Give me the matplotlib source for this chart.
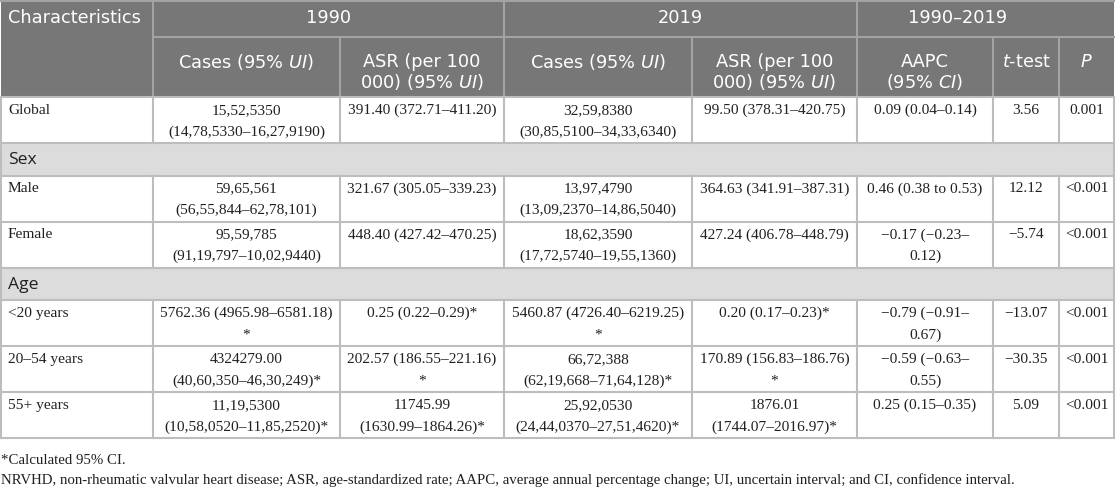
import matplotlib.pyplot as plt
from matplotlib.patches import Rectangle

plt.rcParams['mathtext.fontset'] = 'dejavusans'

# --- table content ---
top_heads = ["1990", "2019", "1990–2019"]
sub_heads = ["Cases (95% $UI$)", "ASR (per 100\n000) (95% $UI$)",
             "Cases (95% $UI$)", "ASR (per 100\n000) (95% $UI$)",
             "AAPC\n(95% $CI$)", "$t$-test", "$P$"]

characteristics = ["Global", "Male", "Female", "<20 years", "20–54 years", "55+ years"]
section_before = {1: "Sex", 3: "Age"}

cases_1990 = ["15,52,5350\n(14,78,5330–16,27,9190)",
              "59,65,561\n(56,55,844–62,78,101)",
              "95,59,785\n(91,19,797–10,02,9440)",
              "5762.36 (4965.98–6581.18)\n*",
              "4324279.00\n(40,60,350–46,30,249)*",
              "11,19,5300\n(10,58,0520–11,85,2520)*"]
asr_1990 = ["391.40 (372.71–411.20)",
            "321.67 (305.05–339.23)",
            "448.40 (427.42–470.25)",
            "0.25 (0.22–0.29)*",
            "202.57 (186.55–221.16)\n*",
            "11745.99\n(1630.99–1864.26)*"]
cases_2019 = ["32,59,8380\n(30,85,5100–34,33,6340)",
              "13,97,4790\n(13,09,2370–14,86,5040)",
              "18,62,3590\n(17,72,5740–19,55,1360)",
              "5460.87 (4726.40–6219.25)\n*",
              "66,72,388\n(62,19,668–71,64,128)*",
              "25,92,0530\n(24,44,0370–27,51,4620)*"]
asr_2019 = ["99.50 (378.31–420.75)",
            "364.63 (341.91–387.31)",
            "427.24 (406.78–448.79)",
            "0.20 (0.17–0.23)*",
            "170.89 (156.83–186.76)\n*",
            "1876.01\n(1744.07–2016.97)*"]
aapc = ["0.09 (0.04–0.14)",
        "0.46 (0.38 to 0.53)",
        "−0.17 (−0.23–\n0.12)",
        "−0.79 (−0.91–\n0.67)",
        "−0.59 (−0.63–\n0.55)",
        "0.25 (0.15–0.35)"]
t_test = ["3.56", "12.12", "−5.74", "−13.07", "−30.35", "5.09"]
p_value = ["0.001", "<0.001", "<0.001", "<0.001", "<0.001", "<0.001"]

footnotes = ["*Calculated 95% CI.",
             "NRVHD, non-rheumatic valvular heart disease; ASR, age-standardized rate; "
             "AAPC, average annual percentage change; UI, uncertain interval; and CI, confidence interval."]

# --- layout (pixels) ---
W, H = 1116, 488
col_edges = [1, 153, 340, 504, 692, 857, 993, 1059, 1114]
head_y = [1, 37, 97]
data_h, sect_h = 46, 32.5
head_bg, sect_bg = "#777777", "#dcdcdc"
grid_c, head_grid_c = "#bdbdbd", "#a3a3a3"
txt_c = "#231f20"
serif = "Liberation Serif"
sans_head = "DejaVu Sans"
sans_sect = "Open Sans"
lw = 1.5
body_fs = 11.1

fig = plt.figure(figsize=(W / 100, H / 100), dpi=100)
ax = fig.add_axes([0, 0, 1, 1])
ax.set_xlim(0, W)
ax.set_ylim(H, 0)
ax.axis("off")


def put(x, y, s, ha, family, size, color, step):
    for i, line in enumerate(s.split("\n")):
        ax.text(x, y + i * step, line, ha=ha, va="center", family=family,
                fontsize=size, color=color)


# header block
x0, x1 = col_edges[0], col_edges[-1]
ax.add_patch(Rectangle((x0, head_y[0]), x1 - x0, head_y[2] - head_y[0],
                       facecolor=head_bg, edgecolor="none"))
ax.plot([col_edges[1], x1], [head_y[1]] * 2, color=head_grid_c, lw=lw)
for i, xe in enumerate(col_edges[1:-1], start=1):
    ytop = head_y[0] if i in (1, 3, 5) else head_y[1]
    ax.plot([xe, xe], [ytop, head_y[2]], color=head_grid_c, lw=lw)

put(8, 18, "Characteristics", "left", sans_head, 12.8, "white", 20)
for k, lab in enumerate(top_heads):
    a, b = col_edges[1 + 2 * k], col_edges[min(3 + 2 * k, len(col_edges) - 1)]
    put((a + b) / 2, 18, lab, "center", sans_head, 12.8, "white", 20)
for k, lab in enumerate(sub_heads):
    put((col_edges[k + 1] + col_edges[k + 2]) / 2, 62, lab, "center",
        sans_head, 12.8, "white", 20)

# body rows
cols = [cases_1990, asr_1990, cases_2019, asr_2019, aapc, t_test, p_value]
y = head_y[2]
for r, name in enumerate(characteristics):
    if r in section_before:
        ax.add_patch(Rectangle((x0, y), x1 - x0, sect_h, facecolor=sect_bg,
                               edgecolor="none"))
        put(8, y + sect_h / 2 + 1, section_before[r], "left", sans_sect, 12.6,
            txt_c, 20)
        ax.plot([x0, x1], [y, y], color=grid_c, lw=lw)
        y += sect_h
    ax.plot([x0, x1], [y, y], color=grid_c, lw=lw)
    for xe in col_edges[1:-1]:
        ax.plot([xe, xe], [y, y + data_h], color=grid_c, lw=lw)
    put(8, y + 13.5, name, "left", serif, body_fs, txt_c, 21.5)
    for c, values in enumerate(cols):
        put((col_edges[c + 1] + col_edges[c + 2]) / 2, y + 13.5, values[r],
            "center", serif, body_fs, txt_c, 21.5)
    y += data_h
ax.plot([x0, x1], [y, y], color=grid_c, lw=lw)
ax.plot([x0, x0], [head_y[2], y], color=grid_c, lw=lw)
ax.plot([x1, x1], [head_y[2], y], color=grid_c, lw=lw)
ax.plot([x0, x1], [head_y[0], head_y[0]], color=head_grid_c, lw=lw)

# footnotes
put(1, 460, footnotes[0], "left", serif, 10.7, txt_c, 20)
put(1, 480, footnotes[1], "left", serif, 10.7, txt_c, 20)

fig.savefig("out.png", dpi=100)
